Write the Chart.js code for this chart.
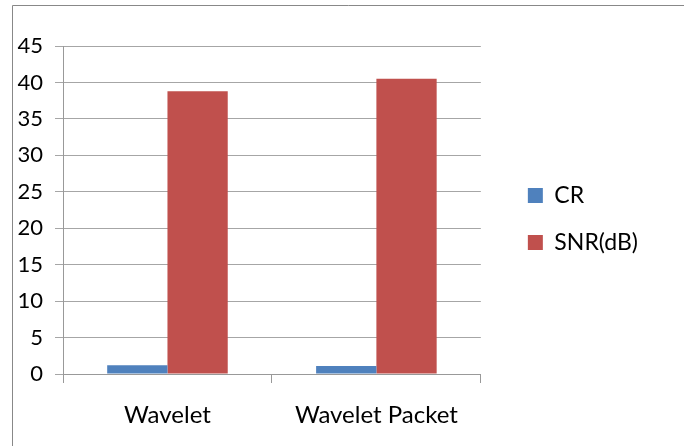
<!DOCTYPE html>
<html>
<head>
<meta charset="utf-8">
<script src="https://cdn.jsdelivr.net/npm/chart.js@4/dist/chart.umd.min.js"></script>
<style>
  html, body { margin: 0; padding: 0; background: #fff; }
  #wrap { width: 684px; height: 446px; }
</style>
</head>
<body>
<div id="wrap"><canvas id="c" width="684" height="446"></canvas></div>
<script>
// Categories, series and axis ticks
const categories = ['Wavelet', 'Wavelet Packet'];
const crValues = [1.2, 1.1];
const snrValues = [38.8, 40.5];
const yTicks = [0, 5, 10, 15, 20, 25, 30, 35, 40, 45];

const FONT = 'Lato, "Open Sans", sans-serif';

// Frame lines along the top and left edge of the figure
const framePlugin = {
  id: 'frame',
  beforeDraw(chart) {
    const ctx = chart.ctx;
    ctx.save();
    ctx.fillStyle = '#fff';
    ctx.fillRect(0, 0, chart.width, chart.height);
    ctx.strokeStyle = '#888';
    ctx.lineWidth = 1;
    ctx.beginPath();
    ctx.moveTo(12.5, chart.height);
    ctx.lineTo(12.5, 5.5);
    ctx.lineTo(chart.width, 5.5);
    ctx.stroke();
    ctx.restore();
  }
};

// Hidden spacer scales that reserve room above and right of the plot
const spacer = (size, horizontal) => ({
  display: false,
  afterFit(scale) {
    if (horizontal) { scale.height = size; } else { scale.width = size; }
  }
});

new Chart(document.getElementById('c'), {
  type: 'bar',
  data: {
    labels: categories,
    datasets: [
      { label: 'CR', data: crValues, backgroundColor: '#4F81BD' },
      { label: 'SNR(dB)', data: snrValues, backgroundColor: '#C0504D' }
    ]
  },
  options: {
    responsive: false,
    animation: false,
    devicePixelRatio: 1,
    layout: { padding: { left: 0, top: 2, right: 36, bottom: 10 } },
    datasets: { bar: { categoryPercentage: 0.577, barPercentage: 1.0 } },
    plugins: {
      legend: {
        position: 'right',
        labels: {
          boxWidth: 15,
          boxHeight: 15,
          padding: 24,
          color: '#000',
          font: { family: FONT, size: 23 }
        }
      },
      tooltip: { enabled: false }
    },
    scales: {
      x: {
        grid: {
          display: true,
          drawOnChartArea: false,
          offset: true,
          tickLength: 9,
          color: '#999'
        },
        border: { color: '#999' },
        ticks: { color: '#000', padding: 18, maxRotation: 0, font: { family: FONT, size: 24 } },
        afterFit(scale) { scale.height = 62; }
      },
      y: {
        min: 0,
        max: 45,
        afterBuildTicks(axis) { axis.ticks = yTicks.map(v => ({ value: v })); },
        grid: { color: '#a6a6a6', tickLength: 8 },
        border: { color: '#999' },
        ticks: { color: '#000', padding: 12, font: { family: FONT, size: 22 } },
        afterFit(scale) { scale.width = 63; }
      },
      xTop: Object.assign({ type: 'category', position: 'top' }, spacer(44, true)),
      yRight: Object.assign({ type: 'linear', position: 'right' }, spacer(23, false))
    }
  },
  plugins: [framePlugin]
});
</script>
</body>
</html>
